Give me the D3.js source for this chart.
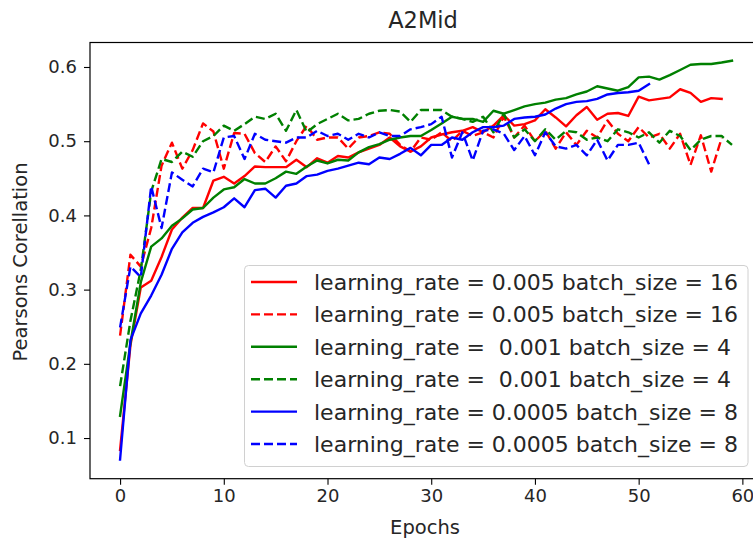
<!DOCTYPE html>
<html>
<head>
<meta charset="utf-8">
<script src="https://cdn.jsdelivr.net/npm/d3@7"></script>
<style>
  body { margin: 0; background: #fff; }
  svg { display: block; font-family: "DejaVu Sans", sans-serif; }
</style>
</head>
<body>
<svg id="chart" width="753" height="545"></svg>
<script>
// Pearson correlation per epoch for each training run
const redSolid = [0.084, 0.225, 0.303, 0.312, 0.344, 0.381, 0.397, 0.41, 0.41, 0.447, 0.452, 0.443, 0.453, 0.466, 0.465,
  0.465, 0.465, 0.475, 0.465, 0.477, 0.471, 0.48, 0.478, 0.485, 0.49, 0.495, 0.505, 0.493, 0.486, 0.493,
  0.505, 0.509, 0.512, 0.514, 0.519, 0.512, 0.521, 0.535, 0.521, 0.523, 0.528, 0.543, 0.532, 0.52, 0.535,
  0.546, 0.529, 0.537, 0.538, 0.534, 0.56, 0.555, 0.557, 0.559, 0.57, 0.565, 0.553, 0.558, 0.557];
const redDashed = [0.238, 0.347, 0.331, 0.383, 0.467, 0.498, 0.463, 0.488, 0.524, 0.513, 0.463, 0.511, 0.51, 0.484, 0.472,
  0.493, 0.473, 0.5, 0.521, 0.502, 0.505, 0.505, 0.49, 0.505, 0.507, 0.512, 0.51, 0.495, 0.486, 0.505,
  0.502, 0.512, 0.5, 0.514, 0.507, 0.512, 0.505, 0.533, 0.505, 0.521, 0.5, 0.514, 0.49, 0.512, 0.495,
  0.514, 0.505, 0.528, 0.51, 0.5, 0.519, 0.505, 0.51, 0.49, 0.51, 0.468, 0.508, 0.459, 0.504];
const greenSolid = [0.13, 0.228, 0.31, 0.358, 0.369, 0.386, 0.396, 0.408, 0.41, 0.424, 0.435, 0.438, 0.449, 0.443, 0.443,
  0.45, 0.459, 0.456, 0.466, 0.474, 0.47, 0.475, 0.474, 0.485, 0.492, 0.496, 0.502, 0.505, 0.507, 0.507,
  0.515, 0.524, 0.533, 0.53, 0.53, 0.526, 0.541, 0.537, 0.542, 0.547, 0.55, 0.552, 0.556, 0.558, 0.563,
  0.567, 0.574, 0.571, 0.568, 0.573, 0.586, 0.587, 0.583, 0.589, 0.596, 0.603, 0.604, 0.604, 0.606, 0.6085];
const greenDashed = [0.17, 0.258, 0.327, 0.432, 0.476, 0.472, 0.486, 0.479, 0.5, 0.507, 0.521, 0.514, 0.523, 0.533, 0.53,
  0.537, 0.514, 0.542, 0.512, 0.523, 0.53, 0.537, 0.528, 0.53, 0.537, 0.541, 0.542, 0.54, 0.526, 0.542,
  0.542, 0.542, 0.533, 0.53, 0.526, 0.533, 0.512, 0.537, 0.505, 0.516, 0.5, 0.516, 0.502, 0.514, 0.512,
  0.502, 0.505, 0.5, 0.516, 0.512, 0.505, 0.512, 0.498, 0.514, 0.507, 0.488, 0.502, 0.507, 0.507, 0.495];
const blueSolid = [0.071, 0.232, 0.268, 0.292, 0.32, 0.355, 0.377, 0.39, 0.398, 0.404, 0.411, 0.423, 0.411, 0.434, 0.436,
  0.424, 0.44, 0.443, 0.453, 0.455, 0.46, 0.463, 0.467, 0.471, 0.469, 0.478, 0.476, 0.483, 0.491, 0.481,
  0.495, 0.495, 0.505, 0.502, 0.512, 0.519, 0.519, 0.521, 0.53, 0.532, 0.533, 0.536, 0.544, 0.55, 0.553,
  0.554, 0.557, 0.563, 0.565, 0.566, 0.568, 0.577];
const blueDashed = [0.249, 0.331, 0.317, 0.439, 0.383, 0.458, 0.448, 0.439, 0.463, 0.458, 0.505, 0.507, 0.476, 0.51, 0.502,
  0.5, 0.498, 0.505, 0.505, 0.514, 0.507, 0.51, 0.502, 0.51, 0.505, 0.512, 0.507, 0.507, 0.516, 0.519,
  0.523, 0.533, 0.478, 0.512, 0.474, 0.514, 0.516, 0.51, 0.488, 0.507, 0.481, 0.512, 0.493, 0.49, 0.495,
  0.481, 0.502, 0.474, 0.495, 0.495, 0.498, 0.469];

const seriesLabels = [
  "learning_rate = 0.005 batch_size = 16",
  "learning_rate = 0.005 batch_size = 16",
  "learning_rate =  0.001 batch_size = 4",
  "learning_rate =  0.001 batch_size = 4",
  "learning_rate = 0.0005 batch_size = 8",
  "learning_rate = 0.0005 batch_size = 8"
];
const xTicks = [0, 10, 20, 30, 40, 50, 60];
const yTicks = [0.1, 0.2, 0.3, 0.4, 0.5, 0.6];

const series = [
  { values: redSolid, color: "#ff0000", dashed: false },
  { values: redDashed, color: "#ff0000", dashed: true },
  { values: greenSolid, color: "#008000", dashed: false },
  { values: greenDashed, color: "#008000", dashed: true },
  { values: blueSolid, color: "#0000ff", dashed: false },
  { values: blueDashed, color: "#0000ff", dashed: true }
];

const svg = d3.select("#chart");
const plotLeft = 90, plotTop = 42.5, plotBottom = 478.7, plotRight = 760;
const x = d3.scaleLinear().domain([-2.9, 61.7]).range([plotLeft, plotRight]);
const y = d3.scaleLinear().domain([0.0452, 0.633]).range([plotBottom, plotTop]);

const dash = "9,4";
const lineW = 2.4;

// training curves
const line = d3.line().x((d, i) => x(i)).y(d => y(d));
const plot = svg.append("g");
series.forEach(s => {
  plot.append("path")
    .datum(s.values)
    .attr("d", line)
    .attr("fill", "none")
    .attr("stroke", s.color)
    .attr("stroke-width", lineW)
    .attr("stroke-linejoin", "round")
    .attr("stroke-linecap", s.dashed ? "butt" : "square")
    .attr("stroke-dasharray", s.dashed ? dash : null);
});

// axes
const xAxis = svg.append("g")
  .attr("transform", `translate(0,${plotBottom})`)
  .call(d3.axisBottom(x).tickValues(xTicks).tickFormat(d3.format("d")).tickSize(6).tickPadding(5));
const yAxis = svg.append("g")
  .attr("transform", `translate(${plotLeft},0)`)
  .call(d3.axisLeft(y).tickValues(yTicks).tickFormat(d3.format(".1f")).tickSize(6).tickPadding(7));
[xAxis, yAxis].forEach(a => {
  a.select(".domain").remove();
  a.selectAll(".tick line").attr("stroke", "#000").attr("stroke-width", 1.1);
  a.selectAll(".tick text").attr("fill", "#262626").style("font-size", "18px").style("font-family", "DejaVu Sans, sans-serif");
});

// frame
svg.append("rect")
  .attr("x", plotLeft).attr("y", plotTop)
  .attr("width", plotRight - plotLeft).attr("height", plotBottom - plotTop)
  .attr("fill", "none").attr("stroke", "#000").attr("stroke-width", 1.2);

// titles
svg.append("text").attr("x", 423).attr("y", 28).attr("text-anchor", "middle")
  .style("font-size", "22.5px").attr("fill", "#262626").text("A2Mid");
svg.append("text").attr("x", 425).attr("y", 534).attr("text-anchor", "middle")
  .style("font-size", "19.5px").attr("fill", "#262626").text("Epochs");
svg.append("text").attr("transform", "translate(27,262) rotate(-90)").attr("text-anchor", "middle")
  .style("font-size", "19.5px").attr("fill", "#262626").text("Pearsons Corellation");

// legend
const lg = svg.append("g");
lg.append("rect").attr("x", 244.5).attr("y", 265.5).attr("width", 503.5).attr("height", 201)
  .attr("rx", 4).attr("fill", "#fff").attr("fill-opacity", 0.8).attr("stroke", "#d0d0d0").attr("stroke-width", 1);
series.forEach((s, i) => {
  const cy = 282 + i * 32.4;
  lg.append("line").attr("x1", 251).attr("x2", 297).attr("y1", cy).attr("y2", cy)
    .attr("stroke", s.color).attr("stroke-width", lineW)
    .attr("stroke-dasharray", s.dashed ? dash : null);
  lg.append("text").attr("x", 314).attr("y", cy).attr("dy", "0.36em")
    .style("font-size", "22px").attr("fill", "#262626")
    .style("white-space", "pre").attr("xml:space", "preserve")
    .text(seriesLabels[i]);
});
</script>
</body>
</html>
